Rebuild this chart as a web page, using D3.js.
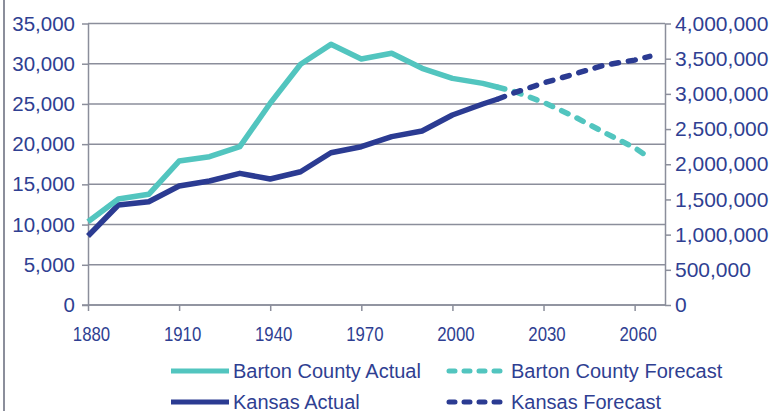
<!DOCTYPE html>
<html>
<head>
<meta charset="utf-8">
<script src="https://cdn.jsdelivr.net/npm/d3@7"></script>
<style>
  body { margin: 0; background: #fff; }
  svg { display: block; font-family: "Liberation Sans", Arial, sans-serif; }
</style>
</head>
<body>
<script>
// years with census values, then the forecast years
const actualYears = [1880, 1890, 1900, 1910, 1920, 1930, 1940, 1950, 1960, 1970, 1980, 1990, 2000, 2010, 2015];
const forecastYears = [2015, 2020, 2030, 2040, 2050, 2060, 2065];

const bartonActual = [10360, 13180, 13760, 17900, 18440, 19690, 25080, 29930, 32410, 30590, 31300, 29430, 28180, 27560, 27070];
const bartonForecast = [27070, 26600, 25200, 23450, 21450, 19550, 18280];

const kansasActual = [980000, 1421000, 1468000, 1691000, 1762000, 1871000, 1790000, 1894000, 2164000, 2249000, 2392000, 2472000, 2700000, 2856000, 2927000];
const kansasForecast = [2927000, 3010000, 3155000, 3280000, 3408000, 3480000, 3533000];

const xTicks = [1880, 1910, 1940, 1970, 2000, 2030, 2060];
const leftTicks = [0, 5000, 10000, 15000, 20000, 25000, 30000, 35000];
const rightTicks = [0, 500000, 1000000, 1500000, 2000000, 2500000, 3000000, 3500000, 4000000];

const legendItems = [
  { label: 'Barton County Actual', key: 'barton', dashed: false },
  { label: 'Barton County Forecast', key: 'barton', dashed: true },
  { label: 'Kansas Actual', key: 'kansas', dashed: false },
  { label: 'Kansas Forecast', key: 'kansas', dashed: true }
];

const colors = { barton: '#52c5bf', kansas: '#2b3b92' };
const textColor = '#2f3f92';
const gridColor = '#8b8e9b';

const width = 775, height = 411;
const margin = { top: 23.5, right: 110, bottom: 106, left: 88 };

const svg = d3.select('body').append('svg')
  .attr('width', width)
  .attr('height', height);

// frame line on the left edge
svg.append('line')
  .attr('x1', 4).attr('x2', 4)
  .attr('y1', 0).attr('y2', height)
  .attr('stroke', gridColor)
  .attr('stroke-width', 2);

const x = d3.scaleLinear()
  .domain([1880, 2070])
  .range([margin.left, width - margin.right]);

const yLeft = d3.scaleLinear()
  .domain([0, 35000])
  .range([height - margin.bottom, margin.top]);

const yRight = d3.scaleLinear()
  .domain([0, 4000000])
  .range([height - margin.bottom, margin.top]);

// gridlines
svg.append('g')
  .selectAll('line')
  .data(leftTicks)
  .join('line')
  .attr('x1', x(1880))
  .attr('x2', x(2070))
  .attr('y1', d => yLeft(d))
  .attr('y2', d => yLeft(d))
  .attr('stroke', gridColor)
  .attr('stroke-width', 1.5);

function styleAxis(g, size) {
  g.select('.domain').attr('stroke', gridColor).attr('stroke-width', 1.5);
  g.selectAll('.tick line').attr('stroke', gridColor).attr('stroke-width', 1.5);
  g.selectAll('.tick text')
    .attr('fill', textColor)
    .style('font-size', size + 'px')
    .style('font-family', '"Liberation Sans", Arial, sans-serif');
}

// left axis
const gLeft = svg.append('g')
  .attr('transform', `translate(${margin.left},0)`)
  .call(d3.axisLeft(yLeft).tickValues(leftTicks).tickSize(6).tickSizeOuter(0).tickPadding(7)
    .tickFormat(d3.format(',')));
styleAxis(gLeft, 20.5);

// right axis
const gRight = svg.append('g')
  .attr('transform', `translate(${x(2070)},0)`)
  .call(d3.axisRight(yRight).tickValues(rightTicks).tickSize(6).tickSizeOuter(0).tickPadding(4)
    .tickFormat(d3.format(',')));
styleAxis(gRight, 21);

// bottom axis
const gBottom = svg.append('g')
  .attr('transform', `translate(0,${yLeft(0)})`)
  .call(d3.axisBottom(x).tickValues(xTicks).tickSize(6).tickSizeOuter(0).tickPadding(9)
    .tickFormat(d3.format('d')));
styleAxis(gBottom, 21);
gBottom.select('.domain').attr('d', `M${x(1880) - 6},0H${x(2070)}`);
gBottom.selectAll('.tick text')
  .attr('dy', '1em')
  .attr('transform', 'translate(3,0) scale(0.8,1)');

// lines
const lineLeft = d3.line().x(d => x(d[0])).y(d => yLeft(d[1]));
const lineRight = d3.line().x(d => x(d[0])).y(d => yRight(d[1]));

const series = [
  { data: d3.zip(actualYears, kansasActual), gen: lineRight, color: colors.kansas, dashed: false },
  { data: d3.zip(actualYears, bartonActual), gen: lineLeft, color: colors.barton, dashed: false },
  { data: d3.zip(forecastYears, bartonForecast), gen: lineLeft, color: colors.barton, dashed: true },
  { data: d3.zip(forecastYears, kansasForecast), gen: lineRight, color: colors.kansas, dashed: true }
];

svg.append('g')
  .selectAll('path')
  .data(series)
  .join('path')
  .attr('d', d => d.gen(d.data))
  .attr('fill', 'none')
  .attr('stroke', d => d.color)
  .attr('stroke-width', 5.5)
  .attr('stroke-linejoin', 'round')
  .attr('stroke-linecap', d => d.dashed ? 'round' : 'butt')
  .attr('stroke-dasharray', d => d.dashed ? '7,10' : null);

// legend, two columns by two rows
const legend = svg.append('g');
const colX = [171, 449];
const rowY = [371, 402];

const item = legend.selectAll('g')
  .data(legendItems)
  .join('g')
  .attr('transform', (d, i) => `translate(${colX[i % 2]},${rowY[Math.floor(i / 2)]})`);

item.append('line')
  .attr('x1', 0).attr('x2', 58)
  .attr('stroke', d => colors[d.key])
  .attr('stroke-width', 5)
  .attr('stroke-linecap', d => d.dashed ? 'round' : 'butt')
  .attr('stroke-dasharray', d => d.dashed ? '6,9' : null);

item.append('text')
  .attr('x', 62)
  .attr('y', 6.5)
  .attr('fill', textColor)
  .style('font-size', '20px')
  .text(d => d.label);
</script>
</body>
</html>
